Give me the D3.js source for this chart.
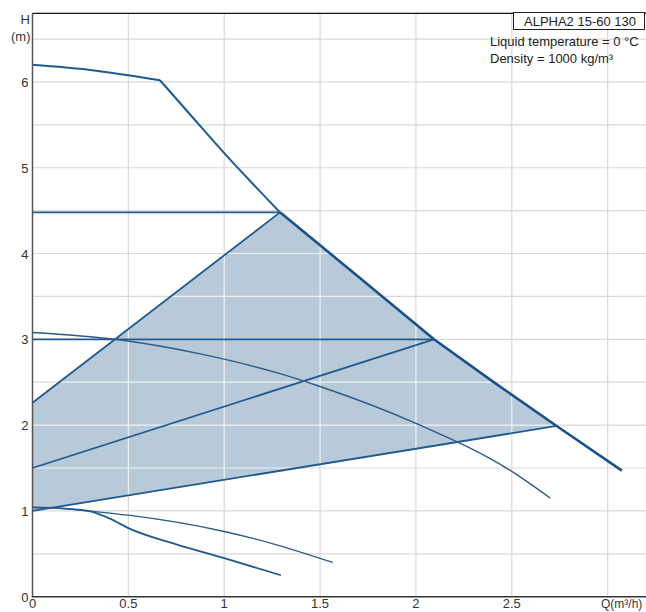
<!DOCTYPE html>
<html>
<head>
<meta charset="utf-8">
<script src="https://cdn.jsdelivr.net/npm/d3@7"></script>
<style>
  html, body { margin: 0; padding: 0; background: #fff; }
  svg { display: block; font-family: "Liberation Sans", Arial, sans-serif; }
</style>
</head>
<body>
<svg id="chart" width="646" height="612"></svg>
<script>
// ---- data ----
const xTicks = [0, 0.5, 1, 1.5, 2, 2.5];
const xTickLabels = ["0", "0.5", "1", "1.5", "2", "2.5"];
const yTicks = [0, 1, 2, 3, 4, 5, 6];
const yTickLabels = ["0", "1", "2", "3", "4", "5", "6"];
const gridX = [0.5, 1, 1.5, 2, 2.5, 3];
const gridY = [0.5, 1, 1.5, 2, 2.5, 3, 3.5, 4, 4.5, 5, 5.5, 6, 6.5];

// max curve (envelope)
const maxQ = [0, 0.3, 0.665, 0.83, 1.0, 1.15, 1.291, 1.7, 2.094, 2.4, 2.734, 3.074];
const maxH = [6.2, 6.14, 6.02, 5.6, 5.17, 4.81, 4.48, 3.73, 3.0, 2.51, 1.99, 1.47];

// constant curve (speed III)
const cQ = [0, 0.43, 0.874, 1.291, 1.5, 2.0, 2.5, 2.70];
const cH = [3.08, 3.0, 2.83, 2.60, 2.45, 2.02, 1.46, 1.15];

// lower curves
const lowAQ = [0, 0.15, 0.29, 0.404, 0.5, 0.75, 1.0, 1.296];
const lowAH = [1.04, 1.03, 1.0, 0.91, 0.80, 0.61, 0.45, 0.25];
const lowBQ = [0, 0.15, 0.29, 0.5, 1.0, 1.25, 1.566];
const lowBH = [1.04, 1.03, 1.0, 0.95, 0.76, 0.62, 0.40];

// constant-pressure lines
const cpH = [4.48, 3.0];
const cpQend = [1.291, 2.094];

// proportional-pressure lines: start H at Q=0, end point
const ppStartH = [2.26, 1.5, 1.0];
const ppEndQ = [1.291, 2.094, 2.734];
const ppEndH = [4.48, 3.0, 1.99];

const titleText = "ALPHA2 15-60 130";
const infoLines = ["Liquid temperature = 0 °C", "Density = 1000 kg/m³"];

// ---- scales ----
const x = d3.scaleLinear().domain([0, 3.2]).range([32.5, 646]);
const y = d3.scaleLinear().domain([0, 6.8]).range([596.7, 13.3]);

const svg = d3.select("#chart");
const lineColor = "#1f5a8f";
const FS = 13;

// fill polygon
const fillPts = [[0, ppStartH[2]], [0, ppStartH[0]], [ppEndQ[0], ppEndH[0]]];
maxQ.forEach((q, i) => { if (q > ppEndQ[0] && q < ppEndQ[2]) fillPts.push([q, maxH[i]]); });
fillPts.push([ppEndQ[2], ppEndH[2]]);

const line = d3.line().x(d => x(d[0])).y(d => y(d[1]));

function drawGrid(g, color, width) {
  g.selectAll(".gx").data(gridX).join("line")
    .attr("x1", d => x(d)).attr("x2", d => x(d))
    .attr("y1", y(0)).attr("y2", y(6.8))
    .attr("stroke", color).attr("stroke-width", width);
  g.selectAll(".gy").data(gridY).join("line")
    .attr("x1", x(0)).attr("x2", x(3.2))
    .attr("y1", d => y(d)).attr("y2", d => y(d))
    .attr("stroke", color).attr("stroke-width", width);
}
drawGrid(svg.append("g"), "#d9d9d9", 1.2);

svg.append("path").attr("d", line(fillPts) + "Z")
  .attr("fill", "#b8c9d9").attr("stroke", "none");

svg.append("clipPath").attr("id", "fillclip")
  .append("path").attr("d", line(fillPts) + "Z");
drawGrid(svg.append("g").attr("clip-path", "url(#fillclip)"), "#eef2f6", 1.2);

// constant pressure lines
svg.append("g").selectAll("line").data(cpH).join("line")
  .attr("x1", x(0)).attr("x2", (d, i) => x(cpQend[i]))
  .attr("y1", d => y(d)).attr("y2", d => y(d))
  .attr("stroke", lineColor).attr("stroke-width", 1.8);

// proportional pressure lines
svg.append("g").selectAll("line").data(ppStartH).join("line")
  .attr("x1", x(0)).attr("y1", d => y(d))
  .attr("x2", (d, i) => x(ppEndQ[i])).attr("y2", (d, i) => y(ppEndH[i]))
  .attr("stroke", lineColor).attr("stroke-width", 1.8);

// curves
const smooth = d3.line().x(d => x(d[0])).y(d => y(d[1])).curve(d3.curveMonotoneX);
function pts(qs, hs) { return qs.map((q, i) => [q, hs[i]]); }

svg.append("path").attr("d", smooth(pts(cQ, cH)))
  .attr("fill", "none").attr("stroke", "#2d5b86").attr("stroke-width", 1.4);
svg.append("path").attr("d", smooth(pts(lowBQ, lowBH)))
  .attr("fill", "none").attr("stroke", "#2d5b86").attr("stroke-width", 1.3);
svg.append("path").attr("d", smooth(pts(lowAQ, lowAH)))
  .attr("fill", "none").attr("stroke", lineColor).attr("stroke-width", 1.8);

const maxPts = pts(maxQ, maxH);
const leftSeg = maxPts.filter(d => d[0] <= 0.665);
const midSeg = maxPts.filter(d => d[0] >= 0.665 && d[0] <= ppEndQ[0]);
const rightSeg = maxPts.filter(d => d[0] >= ppEndQ[0]);
svg.append("path").attr("d", smooth(leftSeg))
  .attr("fill", "none").attr("stroke", lineColor).attr("stroke-width", 2);
svg.append("path").attr("d", smooth(midSeg))
  .attr("fill", "none").attr("stroke", lineColor).attr("stroke-width", 2)
  .attr("stroke-linejoin", "round");
svg.append("path").attr("d", line(rightSeg))
  .attr("fill", "none").attr("stroke", "#1a5189").attr("stroke-width", 2.6)
  .attr("stroke-linejoin", "round");

// axes / frame
svg.append("line").attr("x1", x(0)).attr("x2", 646).attr("y1", y(6.8)).attr("y2", y(6.8))
  .attr("stroke", "#111").attr("stroke-width", 1.2);
svg.append("line").attr("x1", x(0)).attr("x2", x(0)).attr("y1", y(6.8)).attr("y2", y(0))
  .attr("stroke", "#555").attr("stroke-width", 1.5);
svg.append("line").attr("x1", x(0) - 0.7).attr("x2", 646).attr("y1", y(0)).attr("y2", y(0))
  .attr("stroke", "#333").attr("stroke-width", 1.5);

// tick labels
svg.append("g").selectAll("text").data(yTicks).join("text")
  .attr("x", 28.5).attr("y", d => y(d) + 5)
  .attr("text-anchor", "end").attr("font-size", FS).attr("fill", "#333")
  .text((d, i) => yTickLabels[i]);
svg.append("g").selectAll("text").data(xTicks).join("text")
  .attr("x", d => x(d)).attr("y", 608)
  .attr("text-anchor", "middle").attr("font-size", FS).attr("fill", "#333")
  .text((d, i) => xTickLabels[i]);

svg.append("text").attr("x", 601).attr("y", 608).attr("font-size", 12).attr("fill", "#333")
  .text("Q(m³/h)");
svg.append("text").attr("x", 30).attr("y", 24).attr("text-anchor", "end")
  .attr("font-size", FS).attr("fill", "#333").text("H");
svg.append("text").attr("x", 30.5).attr("y", 41).attr("text-anchor", "end")
  .attr("font-size", FS).attr("fill", "#333").text("(m)");

// title box
svg.append("rect").attr("x", 513.5).attr("y", 12.5).attr("width", 131).attr("height", 17)
  .attr("fill", "#fff").attr("stroke", "#222").attr("stroke-width", 1);
svg.append("text").attr("x", 580).attr("y", 26).attr("text-anchor", "middle")
  .attr("font-size", FS).attr("fill", "#222").text(titleText);
svg.append("g").selectAll("text").data(infoLines).join("text")
  .attr("x", 490).attr("y", (d, i) => 46 + i * 16.5)
  .attr("font-size", FS).attr("fill", "#222").text(d => d);
</script>
</body>
</html>
